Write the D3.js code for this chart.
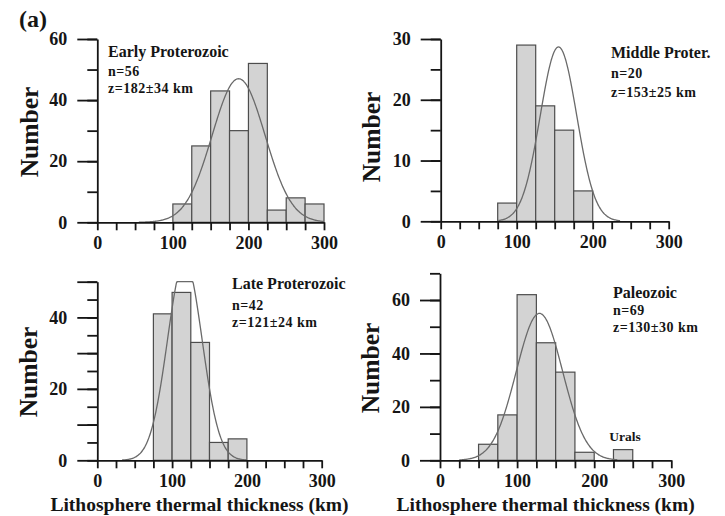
<!DOCTYPE html>
<html>
<head>
<meta charset="utf-8">
<script src="https://cdn.jsdelivr.net/npm/d3@7"></script>
<style>
  body { margin: 0; background: #fff; }
  svg { display: block; }
  text { font-family: "Liberation Serif", "Times New Roman", serif; font-weight: bold; fill: #151515; }
</style>
</head>
<body>
<svg id="fig" width="725" height="516"></svg>
<script>
// ---- data: lithosphere thermal thickness histograms (25 km bins) ----
const binWidth = 25;
const periods = ["Early Proterozoic", "Middle Proter.", "Late Proterozoic", "Paleozoic"];
const sampleSizes = ["n=56", "n=20", "n=42", "n=69"];
const meanThickness = ["z=182±34 km", "z=153±25 km", "z=121±24 km", "z=130±30 km"];
const binStarts = [100, 75, 75, 50];
const earlyCounts = [6, 25, 43, 30, 52, 4, 8, 6];
const middleCounts = [3, 29, 19, 15, 5];
const lateCounts = [41, 47, 33, 5, 6];
const paleozoicCounts = [6, 17, 62, 44, 33, 3, 0, 4];
const counts = [earlyCounts, middleCounts, lateCounts, paleozoicCounts];

// fitted normal curves: centre (km), sigma (km), peak height, drawn range (km)
const fitCentre = [187, 155, 117, 129];
const fitSigma = [35, 24, 23, 30];
const fitPeak = [47, 28.7, 56, 55];
const fitRange = [[55, 300], [76, 236], [33, 200], [25, 230]];

// axes
const xDomain = [0, 300];
const xTickLabels = [0, 100, 200, 300];
const xTickStep = 25;
const yMaxima = [60, 30, 50, 70];
const yMinorStep = [10, 5, 5, 10];
const yMajorStep = [20, 10, 10, 20];
const yTickLabels = [[0, 20, 40, 60], [0, 10, 20, 30], [0, 20, 40], [0, 20, 40, 60]];
const xTitle = "Lithosphere thermal thickness (km)";
const yTitle = "Number";
const notes = [{ panel: 3, text: "Urals", km: 240, value: 4 }];

// ---- layout ----
const frames = [
  { left: 97.3, right: 324,   bottom: 222.3, top: 39,    label: [108, 57.3], yTitleAt: [38, 132],  xTitle: false },
  { left: 440.7, right: 668.7, bottom: 221.3, top: 39,    label: [611, 58.3], yTitleAt: [380, 137], xTitle: false },
  { left: 97.3, right: 321.7, bottom: 460.3, top: 281.7, label: [232, 288.5], yTitleAt: [37, 372], xTitle: true },
  { left: 440,  right: 671.3, bottom: 460.3, top: 273.3, label: [613, 298.3], yTitleAt: [379, 368], xTitle: true }
];
const lineGap = [[18.4, 36], [20, 38.4], [21.5, 38.2], [16.7, 34]];

const svg = d3.select("#fig");

svg.append("text")
  .attr("x", 19).attr("y", 27)
  .style("font-size", "24px")
  .text("(a)");

frames.forEach((f, p) => {
  const x = d3.scaleLinear(xDomain, [f.left, f.right]);
  const y = d3.scaleLinear([0, yMaxima[p]], [f.bottom, f.top]).clamp(true);
  const g = svg.append("g");

  // histogram bars
  const bins = counts[p]
    .map((v, i) => ({ x0: binStarts[p] + i * binWidth, x1: binStarts[p] + (i + 1) * binWidth, v }))
    .filter(d => d.v > 0);
  g.selectAll("rect.bar").data(bins).join("rect")
    .attr("class", "bar")
    .attr("x", d => x(d.x0))
    .attr("width", d => x(d.x1) - x(d.x0))
    .attr("y", d => y(d.v))
    .attr("height", d => y(0) - y(d.v))
    .attr("fill", "#d3d3d3")
    .attr("stroke", "#4d4d4d")
    .attr("stroke-width", 1.2);

  // normal fit
  const gauss = k => fitPeak[p] * Math.exp(-((k - fitCentre[p]) ** 2) / (2 * fitSigma[p] ** 2));
  const pts = d3.range(fitRange[p][0], fitRange[p][1] + 0.01, 1);
  g.append("path")
    .datum(pts)
    .attr("fill", "none")
    .attr("stroke", "#6a6a6a")
    .attr("stroke-width", 1.3)
    .attr("d", d3.line().x(k => x(k)).y(k => y(gauss(k))).curve(d3.curveBasis));

  // y axis: minor then major ticks
  const yMinor = g.append("g").attr("transform", `translate(${f.left},0)`)
    .call(d3.axisLeft(y)
      .tickValues(d3.range(0, yMaxima[p] + 0.01, yMinorStep[p]))
      .tickSize(10).tickSizeOuter(0).tickFormat(""));
  const yMajor = g.append("g").attr("transform", `translate(${f.left},0)`)
    .call(d3.axisLeft(y)
      .tickValues(d3.range(0, yMaxima[p] + 0.01, yMajorStep[p]))
      .tickSize(20).tickPadding(10)
      .tickFormat(d => yTickLabels[p].includes(d) ? d : ""));
  yMajor.select(".domain").remove();

  // x axis
  const xAxis = g.append("g").attr("transform", `translate(0,${f.bottom})`)
    .call(d3.axisBottom(x)
      .tickValues(d3.range(xDomain[0], xDomain[1] + 0.01, xTickStep))
      .tickSize(8).tickSizeOuter(0).tickPadding(6)
      .tickFormat(d => xTickLabels.includes(d) ? d : ""));

  [yMinor, yMajor, xAxis].forEach(a => {
    a.selectAll("path, line").attr("stroke", "#151515").attr("stroke-width", 1.8);
    a.selectAll("text")
      .style("font-family", "'Liberation Serif', 'Times New Roman', serif")
      .style("font-weight", "bold")
      .style("font-size", "18px")
      .attr("fill", "#151515");
  });

  // panel label
  g.append("text").attr("x", f.label[0]).attr("y", f.label[1])
    .style("font-size", "16px").text(periods[p]);
  g.append("text").attr("x", f.label[0]).attr("y", f.label[1] + lineGap[p][0])
    .style("font-size", "14px").style("letter-spacing", "0.5px").text(sampleSizes[p]);
  g.append("text").attr("x", f.label[0]).attr("y", f.label[1] + lineGap[p][1])
    .style("font-size", "14px").style("letter-spacing", "0.5px").text(meanThickness[p]);

  // axis titles
  g.append("text")
    .attr("transform", `translate(${f.yTitleAt[0]},${f.yTitleAt[1]}) rotate(-90)`)
    .attr("text-anchor", "middle")
    .style("font-size", "25.5px")
    .text(yTitle);
  if (f.xTitle) {
    g.append("text")
      .attr("x", (f.left + f.right) / 2 - 10)
      .attr("y", f.bottom + 50.5)
      .attr("text-anchor", "middle")
      .style("font-size", "19.5px")
      .text(xTitle);
  }

  // annotations
  notes.filter(n => n.panel === p).forEach(n => {
    g.append("text")
      .attr("x", x(n.km))
      .attr("y", y(n.value) - 9)
      .attr("text-anchor", "middle")
      .style("font-size", "13.5px")
      .text(n.text);
  });
});
</script>
</body>
</html>
